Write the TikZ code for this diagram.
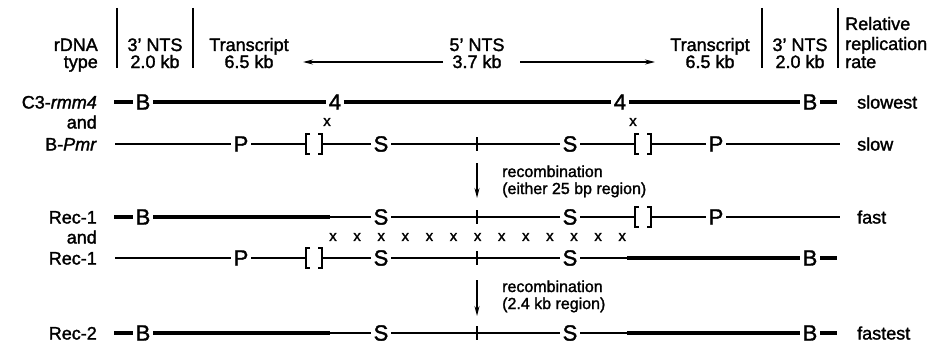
\documentclass[tikz,border=0pt]{standalone}
\usepackage{fontspec}
\setmainfont{Liberation Sans}[FakeBold=1.6]
\usetikzlibrary{arrows.meta}
\begin{document}
\begin{tikzpicture}[x=1pt,y=-1pt,
  txt/.style={font=\fontsize{18}{20}\selectfont, inner sep=0pt},
  lbl/.style={txt, anchor=base east},
  rate/.style={txt, anchor=base west},
  mk/.style={font=\fontsize{22}{24}\selectfont, inner xsep=2.5pt, inner ysep=0pt},
  sm/.style={font=\fontsize{16}{18}\selectfont, inner sep=0pt, anchor=base west},
  xm/.style={font=\fontsize{15}{16}\selectfont, inner sep=0pt},
  thk/.style={line width=4.5pt},
  thn/.style={line width=1.5pt},
  bar/.style={line width=1.5pt},
  arr/.style={line width=1.3pt, -{Stealth[length=10pt,width=5pt]}},
  brk/.pic={
    \draw[thn] (4,-10) -- (0,-10) -- (0,10) -- (4,10);
    \draw[thn] (12,-10) -- (16,-10) -- (16,10) -- (12,10);
    \coordinate (-l) at (0,0);
    \coordinate (-r) at (16,0);
  },
  tick/.pic={
    \draw[thn] (0,-7) -- (0,7);
  }
]
\useasboundingbox (0,0) rectangle (949,345);

% ---------- header ----------
\node[lbl] (hA1) at (98,51) {rDNA};
\node[lbl] (hA2) at (98,68) {type};
\coordinate (v1t) at (117,8);  \coordinate (v1b) at (117,68);
\coordinate (v2t) at (193,8);  \coordinate (v2b) at (193,68);
\coordinate (v3t) at (762,8);  \coordinate (v3b) at (762,68);
\coordinate (v4t) at (838,8);  \coordinate (v4b) at (838,68);
\draw[bar] (v1t) -- (v1b);
\draw[bar] (v2t) -- (v2b);
\draw[bar] (v3t) -- (v3b);
\draw[bar] (v4t) -- (v4b);
\node[txt,anchor=base] (hB1) at (155,51) {3' NTS};
\node[txt,anchor=base] (hB2) at (155,68) {2.0 kb};
\node[txt,anchor=base] (hC1) at (249,51) {Transcript};
\node[txt,anchor=base] (hC2) at (249,68) {6.5 kb};
\node[txt,anchor=base] (hD1) at (477,51) {5' NTS};
\node[txt,anchor=base] (hD2) at (477,68) {3.7 kb};
\node[txt,anchor=base] (hE1) at (710,51) {Transcript};
\node[txt,anchor=base] (hE2) at (710,68) {6.5 kb};
\node[txt,anchor=base] (hF1) at (800,51) {3' NTS};
\node[txt,anchor=base] (hF2) at (800,68) {2.0 kb};
\node[rate] (hG1) at (845,30) {Relative};
\node[rate] (hG2) at (845,50) {replication};
\node[rate] (hG3) at (845,68) {rate};
\coordinate (al1) at (443,62); \coordinate (al2) at (303,62);
\coordinate (ar1) at (520,62); \coordinate (ar2) at (655,62);
\draw[arr] (al1) -- (al2);
\draw[arr] (ar1) -- (ar2);

% ---------- row labels ----------
\node[lbl] (L1) at (97,108.5) {C3-\textit{rmm4}};
\node[lbl] (L1a) at (97,128.5) {and};
\node[lbl] (L2) at (97,150.5) {B-\textit{Pmr}};
\node[lbl] (L3) at (97,223.5) {Rec-1};
\node[lbl] (L3a) at (97,243.5) {and};
\node[lbl] (L4) at (97,264.5) {Rec-1};
\node[lbl] (L5) at (97,339.5) {Rec-2};

\node[rate] (R1) at (857,108.5) {slowest};
\node[rate] (R2) at (857,150.5) {slow};
\node[rate] (R3) at (857,223.5) {fast};
\node[rate] (R5) at (857,339.5) {fastest};

% ---------- row 1 ----------
\coordinate (r1s) at (114,102);
\node[mk] (r1B) at (143,102) {B};
\node[mk] (r1f) at (335,102) {4};
\node[mk] (r1g) at (620,102) {4};
\node[mk] (r1C) at (810,102) {B};
\coordinate (r1e) at (837,102);
\draw[thk] (r1s) -- (r1B.west);
\draw[thk] (r1B.east) -- (r1f.west);
\draw[thk] (r1f.east) -- (r1g.west);
\draw[thk] (r1g.east) -- (r1C.west);
\draw[thk] (r1C.east) -- (r1e);

\node[xm] (x1) at (327,122) {x};
\node[xm] (x2) at (633,122) {x};

% ---------- row 2 ----------
\coordinate (r2s) at (115,144);
\node[mk] (r2P) at (241,144) {P};
\pic (r2k) at (306,144) {brk};
\node[mk] (r2S) at (381,144) {S};
\pic (r2t) at (477,144) {tick};
\node[mk] (r2T) at (570,144) {S};
\pic (r2m) at (635,144) {brk};
\node[mk] (r2Q) at (716,144) {P};
\coordinate (r2e) at (840,144);
\draw[thn] (r2s) -- (r2P.west);
\draw[thn] (r2P.east) -- (r2k-l);
\draw[thn] (r2k-r) -- (r2S.west);
\draw[thn] (r2S.east) -- (r2T.west);
\draw[thn] (r2T.east) -- (r2m-l);
\draw[thn] (r2m-r) -- (r2Q.west);
\draw[thn] (r2Q.east) -- (r2e);

% recombination arrow 1
\coordinate (a1s) at (477,163); \coordinate (a1e) at (477,198);
\draw[arr] (a1s) -- (a1e);
\node[sm] (t1a) at (502,177) {recombination};
\node[sm] (t1b) at (502,194) {(either 25 bp region)};

% ---------- row 3 ----------
\coordinate (r3s) at (114,217);
\node[mk] (r3B) at (143,217) {B};
\coordinate (r3w) at (330,217);
\node[mk] (r3S) at (381,217) {S};
\pic (r3t) at (477,217) {tick};
\node[mk] (r3T) at (570,217) {S};
\pic (r3m) at (635,217) {brk};
\node[mk] (r3Q) at (716,217) {P};
\coordinate (r3e) at (840,217);
\draw[thk] (r3s) -- (r3B.west);
\draw[thk] (r3B.east) -- (r3w);
\draw[thn] (r3w) -- (r3S.west);
\draw[thn] (r3S.east) -- (r3T.west);
\draw[thn] (r3T.east) -- (r3m-l);
\draw[thn] (r3m-r) -- (r3Q.west);
\draw[thn] (r3Q.east) -- (r3e);

% crossover marks
\foreach \i in {0,...,12} {
  \node[xm] (xx\i) at (333+24.1*\i,237) {x};
}

% ---------- row 4 ----------
\coordinate (r4s) at (115,258);
\node[mk] (r4P) at (241,258) {P};
\pic (r4k) at (306,258) {brk};
\node[mk] (r4S) at (381,258) {S};
\pic (r4t) at (477,258) {tick};
\node[mk] (r4T) at (570,258) {S};
\coordinate (r4w) at (627,258);
\node[mk] (r4C) at (810,258) {B};
\coordinate (r4e) at (837,258);
\draw[thn] (r4s) -- (r4P.west);
\draw[thn] (r4P.east) -- (r4k-l);
\draw[thn] (r4k-r) -- (r4S.west);
\draw[thn] (r4S.east) -- (r4T.west);
\draw[thn] (r4T.east) -- (r4w);
\draw[thk] (r4w) -- (r4C.west);
\draw[thk] (r4C.east) -- (r4e);

% recombination arrow 2
\coordinate (a2s) at (477,280); \coordinate (a2e) at (477,316);
\draw[arr] (a2s) -- (a2e);
\node[sm] (t2a) at (502,292) {recombination};
\node[sm] (t2b) at (502,309) {(2.4 kb region)};

% ---------- row 5 ----------
\coordinate (r5s) at (114,333);
\node[mk] (r5B) at (143,333) {B};
\coordinate (r5w) at (330,333);
\node[mk] (r5S) at (381,333) {S};
\pic (r5t) at (477,333) {tick};
\node[mk] (r5T) at (570,333) {S};
\coordinate (r5v) at (627,333);
\node[mk] (r5C) at (810,333) {B};
\coordinate (r5e) at (837,333);
\draw[thk] (r5s) -- (r5B.west);
\draw[thk] (r5B.east) -- (r5w);
\draw[thn] (r5w) -- (r5S.west);
\draw[thn] (r5S.east) -- (r5T.west);
\draw[thn] (r5T.east) -- (r5v);
\draw[thk] (r5v) -- (r5C.west);
\draw[thk] (r5C.east) -- (r5e);
\end{tikzpicture}
\end{document}
